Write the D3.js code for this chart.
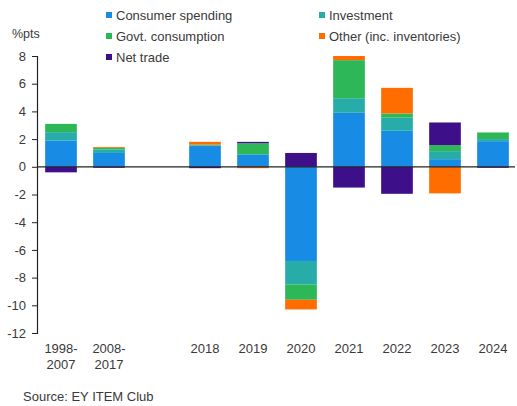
<!DOCTYPE html>
<html>
<head>
<meta charset="utf-8">
<script src="https://cdn.jsdelivr.net/npm/d3@7"></script>
<style>
  html, body { margin: 0; padding: 0; background: #fff; }
  svg { display: block; font-family: "Liberation Sans", Arial, sans-serif; }
</style>
</head>
<body>
<svg id="chart" width="517" height="406"></svg>
<script>
// Periods (an empty slot separates the long-run averages from the annual bars)
const categories = ["1998-2007", "2008-2017", "", "2018", "2019", "2020", "2021", "2022", "2023", "2024"];
const categoryLabels = [["1998-", "2007"], ["2008-", "2017"], [], ["2018"], ["2019"], ["2020"], ["2021"], ["2022"], ["2023"], ["2024"]];

// Contributions to GDP growth, percentage points
const consumerSpending = [1.9, 1.0, 0, 1.5, 0.9, -6.8, 3.9, 2.6, 0.55, 1.85];
const investment       = [0.6, 0.25, 0, 0.05, 0.0, -1.7, 1.05, 0.95, 0.58, 0.15];
const govtConsumption  = [0.6, 0.12, 0, 0.05, 0.8, -1.1, 2.75, 0.3, 0.43, 0.48];
const otherInventories = [0.0, 0.06, 0, 0.2, -0.1, -0.7, 0.3, 1.85, -1.92, 0.0];
const netTrade         = [-0.4, -0.07, 0, -0.1, 0.1, 1.0, -1.5, -1.95, 1.64, -0.07];

const seriesNames  = ["Consumer spending", "Investment", "Govt. consumption", "Other (inc. inventories)", "Net trade"];
const seriesColors = ["#188CE5", "#27ACAA", "#2DB757", "#FF6D00", "#3D108A"];
const yTicks = [-12, -10, -8, -6, -4, -2, 0, 2, 4, 6, 8];

const seriesValues = [consumerSpending, investment, govtConsumption, otherInventories, netTrade];
const rows = categories.map((c, i) => {
  const r = { cat: c };
  seriesNames.forEach((s, k) => { r[s] = seriesValues[k][i]; });
  return r;
});

const svg = d3.select("#chart");
const textColor = "#3a3a3a";
const fontFamily = "'Liberation Sans', Arial, sans-serif";

const x = d3.scaleBand().domain(categories).range([37, 517]).paddingInner(0.34).paddingOuter(0.17);
const y = d3.scaleLinear().domain([-12, 8]).range([333, 56]);

const stack = d3.stack().keys(seriesNames).offset(d3.stackOffsetDiverging);
const layers = stack(rows.filter(r => r.cat !== ""));

// Stacked bars
svg.append("g").selectAll("g")
  .data(layers)
  .join("g")
  .attr("fill", (d, i) => seriesColors[i])
  .selectAll("rect")
  .data(d => d)
  .join("rect")
  .attr("x", d => x(d.data.cat))
  .attr("width", x.bandwidth())
  .attr("y", d => y(Math.max(d[0], d[1])))
  .attr("height", d => Math.abs(y(d[0]) - y(d[1])));

// Y axis (plain hyphen for negatives)
const yAxis = svg.append("g")
  .attr("transform", "translate(37,0)")
  .call(d3.axisLeft(y).tickValues(yTicks).tickFormat(d => String(d))
    .tickSize(5).tickSizeOuter(5).tickPadding(6));
yAxis.select(".domain").attr("stroke", "#222").attr("stroke-width", 1.2);
yAxis.selectAll(".tick line").attr("stroke", "#222");
yAxis.selectAll(".tick text").attr("fill", textColor).style("font-size", "13px").style("font-family", fontFamily);

// Zero line
svg.append("line")
  .attr("x1", 37).attr("x2", 515)
  .attr("y1", y(0)).attr("y2", y(0))
  .attr("stroke", "#222").attr("stroke-width", 1.2);

// X labels, one text element per line
const xLabelLines = [];
categories.forEach((c, i) => {
  categoryLabels[i].forEach((t, j) => xLabelLines.push({ c, t, j }));
});
svg.append("g").selectAll("text")
  .data(xLabelLines)
  .join("text")
  .attr("x", d => x(d.c) + x.bandwidth() / 2)
  .attr("y", d => 353 + d.j * 15.5)
  .attr("text-anchor", "middle")
  .attr("fill", textColor)
  .style("font-size", "13px")
  .text(d => d.t);

// Unit label
svg.append("text").attr("x", 12).attr("y", 38).attr("fill", textColor)
  .style("font-size", "12.5px").text("%pts");

// Legend
const legendPos = [[106, 16], [319, 16], [106, 37], [319, 37], [106, 58]];
const lg = svg.append("g").selectAll("g")
  .data(seriesNames)
  .join("g")
  .attr("transform", (d, i) => `translate(${legendPos[i][0]},${legendPos[i][1]})`);
lg.append("rect").attr("x", 0).attr("y", -4).attr("width", 6).attr("height", 6)
  .attr("fill", (d, i) => seriesColors[i]);
lg.append("text").attr("x", 10).attr("y", 4).attr("fill", textColor)
  .style("font-size", "13px").text(d => d);

// Source
svg.append("text").attr("x", 23).attr("y", 401).attr("fill", textColor)
  .style("font-size", "13px").text("Source: EY ITEM Club");
</script>
</body>
</html>
